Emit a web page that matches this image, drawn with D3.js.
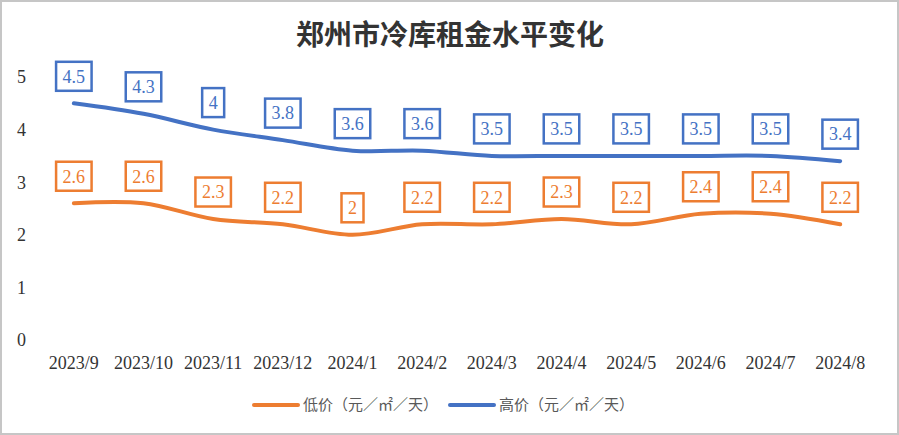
<!DOCTYPE html>
<html>
<head>
<meta charset="utf-8">
<script src="https://cdn.jsdelivr.net/npm/d3@7"></script>
<style>
  body { margin: 0; background: #fff; }
  svg { display: block; }
</style>
</head>
<body>
<script>
// chart data
var months = ["2023/9", "2023/10", "2023/11", "2023/12", "2024/1", "2024/2",
              "2024/3", "2024/4", "2024/5", "2024/6", "2024/7", "2024/8"];
var lowPrice = [2.6, 2.6, 2.3, 2.2, 2, 2.2, 2.2, 2.3, 2.2, 2.4, 2.4, 2.2];
var highPrice = [4.5, 4.3, 4, 3.8, 3.6, 3.6, 3.5, 3.5, 3.5, 3.5, 3.5, 3.4];
var yTicks = [0, 1, 2, 3, 4, 5];
var seriesNames = ["低价（元／㎡／天）", "高价（元／㎡／天）"];

var width = 899, height = 435;
var serif = "'Liberation Serif', 'DejaVu Serif', serif";
var cjk = "'Noto Sans CJK SC', sans-serif";

var svg = d3.select("body").append("svg")
    .attr("width", width)
    .attr("height", height);

// outer frame
svg.append("rect")
    .attr("x", 1).attr("y", 1)
    .attr("width", width - 2).attr("height", height - 2)
    .attr("fill", "#fff")
    .attr("stroke", "#c6c6c6")
    .attr("stroke-width", 2);

// title
svg.append("text")
    .attr("x", 450).attr("y", 35)
    .attr("dy", "0.35em")
    .attr("text-anchor", "middle")
    .style("font-family", cjk)
    .style("font-weight", "bold")
    .style("font-size", "28px")
    .style("fill", "#333")
    .text("郑州市冷库租金水平变化");

// scales
var x = d3.scalePoint().domain(months).range([39, 875]).padding(0.5);
var y = d3.scaleLinear().domain([0, 5]).range([340, 77]);

// y labels
svg.append("g").selectAll("text")
    .data(yTicks)
  .enter().append("text")
    .attr("x", 26)
    .attr("y", function(d) { return y(d); })
    .attr("dy", "0.35em")
    .attr("text-anchor", "end")
    .style("font-family", serif)
    .style("font-size", "18px")
    .style("fill", "#333")
    .text(function(d) { return d; });

// x labels
svg.append("g").selectAll("text")
    .data(months)
  .enter().append("text")
    .attr("x", function(d) { return x(d); })
    .attr("y", 363)
    .attr("dy", "0.35em")
    .attr("text-anchor", "middle")
    .style("font-family", serif)
    .style("font-size", "18px")
    .style("fill", "#333")
    .text(function(d) { return d; });

var series = [
  {name: seriesNames[0], values: lowPrice, color: "#ED7D31"},
  {name: seriesNames[1], values: highPrice, color: "#4472C4"}
];

var line = d3.line()
    .x(function(d, i) { return x(months[i]); })
    .y(function(d) { return y(d); })
    .curve(d3.curveCardinal.tension(0));

series.forEach(function(s) {
  svg.append("path")
      .datum(s.values)
      .attr("d", line)
      .attr("fill", "none")
      .attr("stroke", s.color)
      .attr("stroke-width", 4)
      .attr("stroke-linecap", "round");

  // data labels in boxes
  var lab = svg.append("g").selectAll("g")
      .data(s.values)
    .enter().append("g")
      .attr("transform", function(d, i) {
        return "translate(" + x(months[i]) + "," + (y(d) - 27) + ")";
      });

  lab.append("rect").attr("class", "box");
  lab.append("text")
      .attr("text-anchor", "middle")
      .attr("dy", "0.35em")
      .style("font-family", serif)
      .style("font-size", "18px")
      .style("fill", s.color)
      .text(function(d) { return d; });

  lab.each(function() {
    var g = d3.select(this);
    var w = g.select("text").node().getComputedTextLength() + 13;
    g.select("rect")
        .attr("x", -w / 2).attr("y", -14.5)
        .attr("width", w).attr("height", 29)
        .attr("fill", "#fff")
        .attr("stroke", s.color)
        .attr("stroke-width", 2.5);
  });
});

// legend
var legendX = [254, 450];
series.forEach(function(s, i) {
  var lg = svg.append("g").attr("transform", "translate(" + legendX[i] + ",405)");
  lg.append("line")
      .attr("x1", 0).attr("x2", 44)
      .attr("stroke", s.color)
      .attr("stroke-width", 4)
      .attr("stroke-linecap", "round");
  lg.append("text")
      .attr("x", 49)
      .attr("dy", "0.35em")
      .style("font-family", cjk)
      .style("font-size", "15px")
      .style("fill", "#595959")
      .text(s.name);
});
</script>
</body>
</html>
